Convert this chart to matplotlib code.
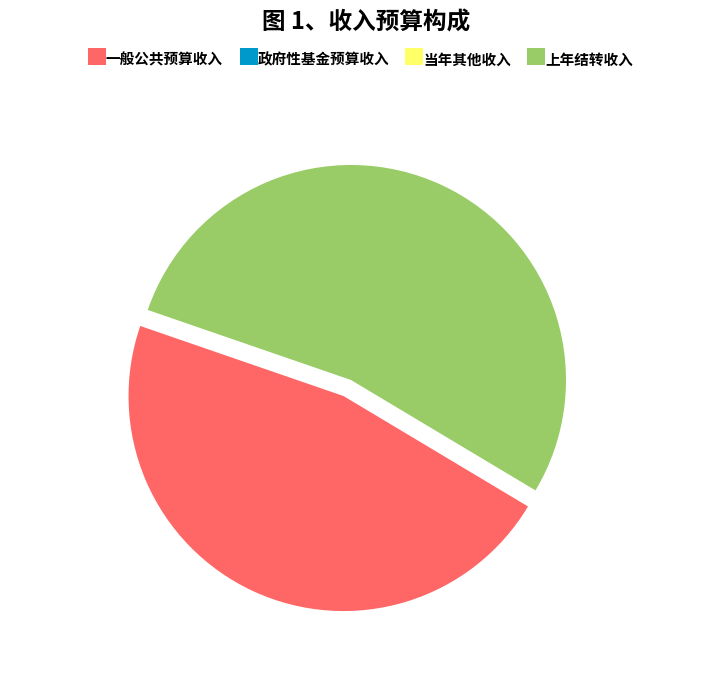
import matplotlib.pyplot as plt
from matplotlib.patches import Rectangle

plt.rcParams['font.family'] = ['Noto Sans CJK SC', 'DejaVu Sans']

# 收入预算构成数据
categories = ['一般公共预算收入', '政府性基金预算收入', '当年其他收入', '上年结转收入']
values = [467, 0, 0, 533]
colors = ['#FF6666', '#0099CC', '#FFFF66', '#99CC66']
title = '图 1、收入预算构成'

W, H = 726, 684
fig = plt.figure(figsize=(W / 100, H / 100), dpi=100)
# 整个画布作为坐标系，单位为像素，y 轴朝上
ax = fig.add_axes([0, 0, 1, 1])

# explode 在这里是数据单位（像素），不是半径的比例
ax.pie(values, colors=colors, startangle=-30.9, counterclock=False,
       radius=215, center=(351, H - 380),
       explode=[17.7, 0, 0, 0],
       wedgeprops=dict(linewidth=0))

ax.set_xlim(0, W)
ax.set_ylim(0, H)
ax.axis('off')

ax.text(366, H - 23, title, ha='center', va='center',
        fontsize=17, fontweight='bold', color='#000000')

# 手工绘制图例
box_x = [88, 240, 405, 527]
for bx, name, c in zip(box_x, categories, colors):
    ax.add_patch(Rectangle((bx, H - 65), 18, 17, facecolor=c, edgecolor='none'))
    ax.text(bx + 18, H - 59.5, name, ha='left', va='center',
            fontsize=10.5, fontweight='bold', color='#000000')

fig.savefig('out.png', dpi=100)
